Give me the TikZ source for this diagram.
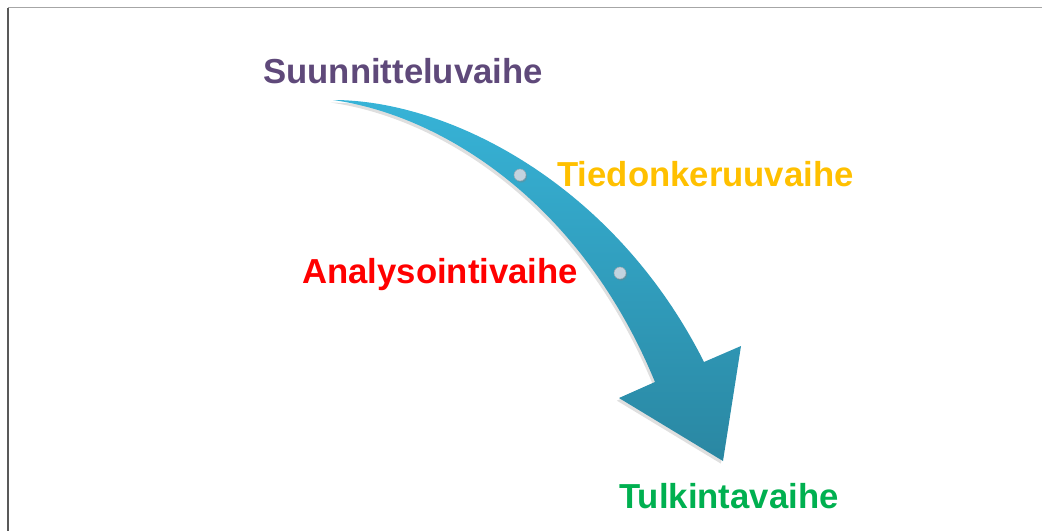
\documentclass[tikz,border=0pt]{standalone}
\usepackage{fontspec}
\setmainfont{Liberation Sans}
\usetikzlibrary{shadows}
\definecolor{suunn}{HTML}{5F497A}
\definecolor{tiedon}{HTML}{FFC000}
\definecolor{analys}{HTML}{FF0000}
\definecolor{tulk}{HTML}{00B050}
\definecolor{arrtop}{HTML}{37B3D7}
\definecolor{arrbot}{HTML}{2A87A2}
\definecolor{dotc}{HTML}{C3D3DF}
\newlength{\pxu}\setlength{\pxu}{0.02cm}
\tikzset{
  vaihe/.style={anchor=base west,inner sep=0pt,font=\fontsize{19.75}{24}\selectfont\bfseries},
  dot/.style={circle,inner sep=0pt,minimum size=12\pxu,fill=dotc,draw=dotc!80!black,line width=0.3pt,
    drop shadow={opacity=0.35,shadow xshift=0.6pt,shadow yshift=-0.9pt}}
}
\begin{document}
\begin{tikzpicture}[x=0.02cm,y=-0.02cm]
	\useasboundingbox (0,0) rectangle (1042,531);
	\draw[gray!70,line width=1pt] (8,7.5)--(1042,7.5);
	\draw[black!65,line width=0.6pt] (8,7.5)--(8,531);
	% curved arrow
	\path[top color=arrtop,bottom color=arrbot,
		drop shadow={opacity=0.25,shadow xshift=-1.2pt,shadow yshift=-1.5pt}]
		(333,100) .. controls (450,100) and (615,185) .. (704,362)
		-- (741,346) -- (723,461) -- (619,398) -- (655,382)
		.. controls (580,200) and (440,115) .. (333,100) -- cycle;
	\node[dot] (p1) at (520,175) {};
	\node[dot] (p2) at (620,273) {};
	\node[vaihe,text=suunn] (suunn) at (263,83) {Suunnitteluvaihe};
	\node[vaihe,text=tiedon] (tiedon) at (557,186) {Tiedonkeruuvaihe};
	\node[vaihe,text=analys] (analys) at (302,283) {Analysointivaihe};
	\node[vaihe,text=tulk] (tulk) at (619,508) {Tulkintavaihe};
\end{tikzpicture}
\end{document}
